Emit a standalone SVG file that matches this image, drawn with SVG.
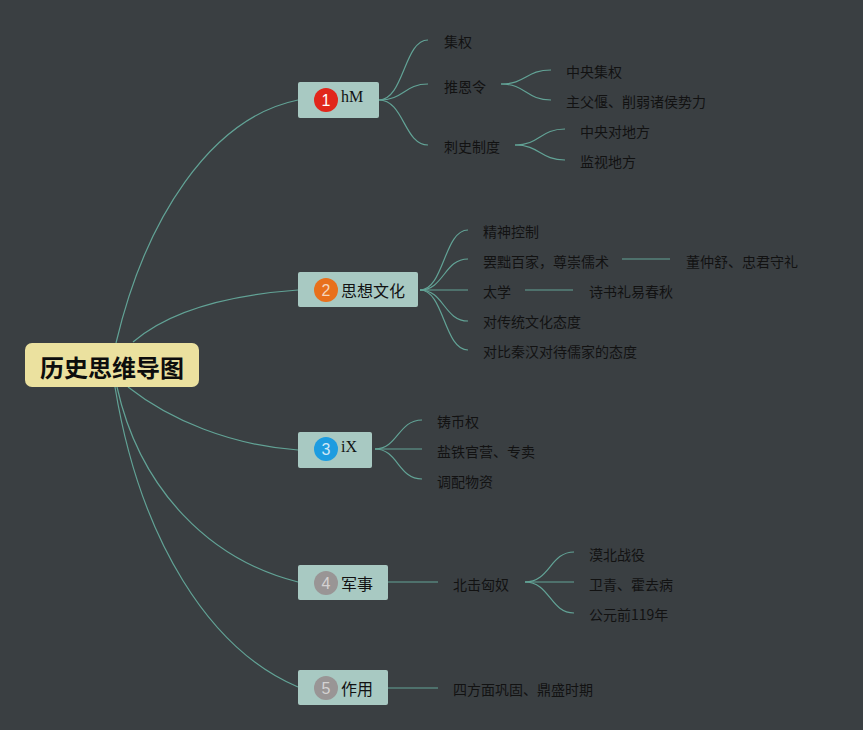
<svg xmlns="http://www.w3.org/2000/svg" width="863" height="730" viewBox="0 0 863 730">
<style>
.bg{fill:#3a3f42}
.topic{fill:#a8c9c2}
.root{fill:#ebe19f}
.ln{fill:none;stroke:#62a396;stroke-width:1.2}
.t{font-family:"Noto Sans CJK SC","Liberation Sans",sans-serif;font-size:14px;fill:#121212;dominant-baseline:central}
.tt{font-family:"Noto Sans CJK SC","Liberation Sans",sans-serif;font-size:16px;fill:#121212;dominant-baseline:central}
.ts{font-family:"Liberation Serif",serif;font-size:16px;fill:#121212}
.num{font-family:"Liberation Sans",sans-serif;font-size:16px;text-anchor:middle;dominant-baseline:central}
.rt{font-family:"Noto Sans CJK SC","Liberation Sans",sans-serif;font-size:24px;font-weight:bold;fill:#0d0d0d;text-anchor:middle;dominant-baseline:central}
</style>
<rect class="bg" x="0" y="0" width="863" height="730"/>
<g id="connectors">
<path class="ln" d="M116,343 C145,220 210,118 298,100"/>
<path class="ln" d="M133,342 C170,310 230,295 298,290"/>
<path class="ln" d="M128,387 C170,420 230,445 298,450"/>
<path class="ln" d="M117,387 C140,490 210,560 298,582"/>
<path class="ln" d="M115,387 C140,540 210,650 298,687"/>
<path class="ln" d="M379,100 C404,100 404,40 428,40"/>
<path class="ln" d="M379,100 C404,100 404,84 428,84"/>
<path class="ln" d="M379,100 C404,100 404,145 428,145"/>
<path class="ln" d="M501,84 C526,84 526,70 551,70"/>
<path class="ln" d="M501,84 C526,84 526,100 551,100"/>
<path class="ln" d="M515,145 C540,145 540,129 565,129"/>
<path class="ln" d="M515,145 C540,145 540,160 565,160"/>
<path class="ln" d="M420,290 C444,290 444,230 468,230"/>
<path class="ln" d="M420,290 C444,290 444,259 468,259"/>
<path class="ln" d="M420,290 L468,290"/>
<path class="ln" d="M420,290 C444,290 444,321 468,321"/>
<path class="ln" d="M420,290 C444,290 444,350 468,350"/>
<path class="ln" d="M622,259 L670,259"/>
<path class="ln" d="M525,290 L573,290"/>
<path class="ln" d="M375,449 C398,449 398,420 422,420"/>
<path class="ln" d="M375,449 L422,449"/>
<path class="ln" d="M375,449 C398,449 398,479 422,479"/>
<path class="ln" d="M388,582 L438,582"/>
<path class="ln" d="M525,582 C550,582 550,552 574,552"/>
<path class="ln" d="M525,582 L574,582"/>
<path class="ln" d="M525,582 C550,582 550,613 574,613"/>
<path class="ln" d="M388,688 L438,688"/>
</g>
<g id="root">
<rect class="root" x="25" y="343" width="174" height="44" rx="7"/>
<text class="rt" x="112" y="366">历史思维导图</text>
</g>
<g id="node1">
<rect class="topic" x="298" y="82" width="81" height="36" rx="2"/>
<circle cx="326" cy="100" r="12" fill="#e1261b"/>
<text class="num" x="326" y="100" fill="#fff">1</text>
<text class="ts" x="341" y="102">hM</text>
</g>
<g id="n1a"><text class="t" x="444" y="41">集权</text></g>
<g id="n1b"><text class="t" x="444" y="86">推恩令</text></g>
<g id="n1b1"><text class="t" x="566" y="71">中央集权</text></g>
<g id="n1b2"><text class="t" x="566" y="101">主父偃、削弱诸侯势力</text></g>
<g id="n1c"><text class="t" x="444" y="146">刺史制度</text></g>
<g id="n1c1"><text class="t" x="580" y="131">中央对地方</text></g>
<g id="n1c2"><text class="t" x="580" y="161">监视地方</text></g>
<g id="node2">
<rect class="topic" x="298" y="272" width="120" height="35" rx="2"/>
<circle cx="326" cy="290" r="12" fill="#e8701c"/>
<text class="num" x="326" y="290" fill="#f5d6bd">2</text>
<text class="tt" x="341" y="290">思想文化</text>
</g>
<g id="n2a"><text class="t" x="483" y="231">精神控制</text></g>
<g id="n2b"><text class="t" x="483" y="261">罢黜百家，尊崇儒术</text></g>
<g id="n2b1"><text class="t" x="686" y="261">董仲舒、忠君守礼</text></g>
<g id="n2c"><text class="t" x="483" y="291">太学</text></g>
<g id="n2c1"><text class="t" x="589" y="291">诗书礼易春秋</text></g>
<g id="n2d"><text class="t" x="483" y="321">对传统文化态度</text></g>
<g id="n2e"><text class="t" x="483" y="351">对比秦汉对待儒家的态度</text></g>
<g id="node3">
<rect class="topic" x="298" y="432" width="74" height="36" rx="2"/>
<circle cx="326" cy="449" r="12" fill="#1d9ce0"/>
<text class="num" x="326" y="449" fill="#cfe8f7">3</text>
<text class="ts" x="341" y="452">iX</text>
</g>
<g id="n3a"><text class="t" x="437" y="421">铸币权</text></g>
<g id="n3b"><text class="t" x="437" y="451">盐铁官营、专卖</text></g>
<g id="n3c"><text class="t" x="437" y="481">调配物资</text></g>
<g id="node4">
<rect class="topic" x="298" y="565" width="90" height="35" rx="2"/>
<circle cx="326" cy="583" r="12" fill="#999595"/>
<text class="num" x="326" y="583" fill="#d4d2d2">4</text>
<text class="tt" x="341" y="583">军事</text>
</g>
<g id="n4a"><text class="t" x="453" y="584">北击匈奴</text></g>
<g id="n4a1"><text class="t" x="589" y="554">漠北战役</text></g>
<g id="n4a2"><text class="t" x="589" y="584">卫青、霍去病</text></g>
<g id="n4a3"><text class="t" x="589" y="614">公元前119年</text></g>
<g id="node5">
<rect class="topic" x="298" y="670" width="90" height="35" rx="2"/>
<circle cx="326" cy="688" r="12" fill="#999595"/>
<text class="num" x="326" y="688" fill="#d4d2d2">5</text>
<text class="tt" x="341" y="688">作用</text>
</g>
<g id="n5a"><text class="t" x="453" y="689">四方面巩固、鼎盛时期</text></g>
</svg>
